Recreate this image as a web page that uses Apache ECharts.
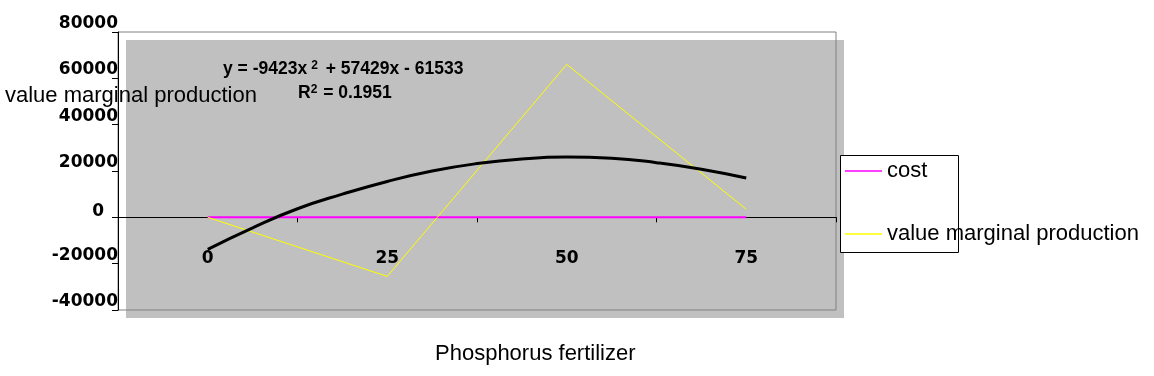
<!DOCTYPE html>
<html>
<head>
<meta charset="utf-8">
<script src="https://cdn.jsdelivr.net/npm/echarts@6/dist/echarts.min.js"></script>
<style>
html, body { margin: 0; padding: 0; background: #fff; }
#chart { width: 1154px; height: 376px; }
</style>
</head>
<body>
<div id="chart"></div>
<script>
// phosphorus doses (categories) and the two plotted series
var doses = [0, 25, 50, 75];
var cost = [0, 0, 0, 0];
var vmp = [0, -25500, 66000, 3500];

// polynomial trendline at regular dose steps
var trendX = [0, 6.25, 12.5, 18.75, 25, 31.25, 37.5, 43.75, 50, 56.25, 62.5, 68.75, 75];
var trendY = [-13800, -4500, 3700, 10000, 15500, 20000, 23200, 25200, 26000, 25500, 23600, 20800, 17000];

var eqText = 'y = -9423x{sup|2} + 57429x - 61533';
var r2Text = 'R{sup|2} = 0.1951';

(function () {
    var myChart = echarts.init(document.getElementById('chart'));
    var labelFont = 'DejaVu Sans';
    var textFont = 'Liberation Sans';
    // ticks sit on the category boundaries, halfway between doses
    var step = doses[1] - doses[0];
    var bounds = doses.map(function (d) { return d + step / 2; });

    function pairs(xs, ys) {
        return xs.map(function (x, i) { return [x, ys[i]]; });
    }

    var option = {
        animation: false,
        title: [
            {
                text: 'Phosphorus fertilizer', left: 435, top: 343, padding: 0,
                textStyle: { fontFamily: textFont, fontSize: 22, fontWeight: 'normal', color: '#000' }
            },
            {
                text: 'value marginal production', left: 5, top: 85, padding: 0,
                textStyle: { fontFamily: textFont, fontSize: 22, fontWeight: 'normal', color: '#000' }
            },
            {
                text: eqText, left: 223, top: 60, padding: 0,
                textStyle: {
                    fontFamily: textFont, fontSize: 17.5, fontWeight: 'bold', color: '#000',
                    rich: { sup: { fontFamily: textFont, fontSize: 12, fontWeight: 'bold', verticalAlign: 'top', padding: [0, 3, 0, 4] } }
                }
            },
            {
                text: r2Text, left: 298, top: 84, padding: 0,
                textStyle: {
                    fontFamily: textFont, fontSize: 17.5, fontWeight: 'bold', color: '#000',
                    rich: { sup: { fontFamily: textFont, fontSize: 12, fontWeight: 'bold', verticalAlign: 'top', padding: [0, 1, 0, 0] } }
                }
            }
        ],
        // legend frame is narrower than its text, as in the original
        graphic: [
            {
                type: 'rect', left: 840, top: 155, z: 0,
                shape: { width: 118, height: 97 },
                style: { fill: '#fff', stroke: '#000', lineWidth: 1 }
            }
        ],
        legend: {
            orient: 'vertical', left: 840, top: 156,
            data: ['cost', 'value marginal production'],
            icon: 'rect', itemWidth: 37, itemHeight: 1.5, itemGap: 41,
            padding: [4, 5, 10, 5],
            borderWidth: 0,
            selectedMode: false,
            textStyle: { fontFamily: textFont, fontSize: 22, color: '#000' }
        },
        grid: [
            // shifted gray panel behind the plot frame
            { left: 126, top: 40, width: 718, height: 278, show: true, backgroundColor: '#c0c0c0', borderWidth: 0 },
            { left: 118, top: 32, width: 718, height: 278, show: true, backgroundColor: 'transparent', borderColor: '#808080', borderWidth: 1 }
        ],
        xAxis: [
            { gridIndex: 0, type: 'value', show: false, min: 0, max: 1 },
            {
                gridIndex: 1, type: 'value', min: -12.5, max: 87.5,
                axisLine: { show: true, onZero: true, lineStyle: { color: '#000', width: 1 } },
                axisTick: { show: true, customValues: bounds, length: 5, lineStyle: { color: '#000' } },
                axisLabel: {
                    customValues: doses, margin: -60,
                    fontFamily: labelFont, fontSize: 17, fontWeight: 'bold', color: '#000',
                    formatter: function (v) { return String(v); }
                },
                splitLine: { show: false }
            }
        ],
        yAxis: [
            { gridIndex: 0, type: 'value', show: false },
            {
                gridIndex: 1, type: 'value', min: -40000, max: 80000, interval: 20000,
                axisLine: { show: true, onZero: false, lineStyle: { color: '#000', width: 1 } },
                axisTick: { show: true, length: 6, lineStyle: { color: '#000' } },
                axisLabel: {
                    margin: 0, verticalAlign: 'bottom', align: 'right',
                    fontFamily: labelFont, fontSize: 17, fontWeight: 'bold', color: '#000',
                    // the zero label sits a little left and lower in the original
                    formatter: function (v) { return v === 0 ? '{z|0}' : String(v); },
                    rich: {
                        z: { fontFamily: labelFont, fontSize: 17, fontWeight: 'bold', color: '#000', padding: [0, 14, -3, 0] }
                    }
                },
                splitLine: { show: false }
            }
        ],
        series: [
            {
                name: 'cost', type: 'line', xAxisIndex: 1, yAxisIndex: 1,
                data: pairs(doses, cost), symbol: 'none', color: '#ff00ff',
                lineStyle: { color: '#ff00ff', width: 2 }
            },
            {
                name: 'value marginal production', type: 'line', xAxisIndex: 1, yAxisIndex: 1,
                data: pairs(doses, vmp), symbol: 'none', color: '#ffff00',
                lineStyle: { color: '#ffff00', width: 1 }
            },
            {
                name: 'trend', type: 'line', xAxisIndex: 1, yAxisIndex: 1,
                data: pairs(trendX, trendY), symbol: 'none', smooth: true, color: '#000',
                lineStyle: { color: '#000', width: 3 }
            }
        ]
    };
    myChart.setOption(option);
})();
</script>
</body>
</html>
